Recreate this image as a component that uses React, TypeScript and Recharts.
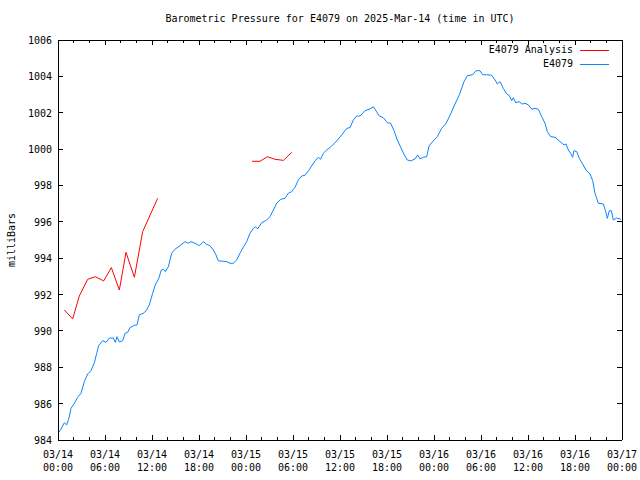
import React from 'react';
import { LineChart, Line, XAxis, YAxis, Legend } from 'recharts';

const stationHours = [
  0.13, 0.26, 0.81, 1.1, 1.36, 1.66, 2.09, 2.51, 2.94, 3.36, 3.79, 4.21, 4.64, 4.94, 5.19, 5.7,
  6.13, 6.55, 7.06, 7.32, 7.53, 7.83, 8.26, 8.55, 8.89, 9.19, 9.75, 10.09, 10.38, 10.89, 11.23,
  11.66, 12.08, 12.42, 12.85, 13.19, 13.45, 13.7, 14.09, 14.51, 14.94, 15.57, 16.21, 16.64,
  16.98, 17.49, 18.04, 18.55, 18.98, 19.4, 19.83, 20.17, 20.47, 21.1, 21.54, 21.96, 22.38,
  22.81, 23.23, 23.66, 24.09, 24.51, 24.94, 25.24, 25.49, 26.0, 26.64, 27.06, 27.49, 27.92,
  28.43, 28.98, 29.4, 29.83, 30.26, 30.68, 31.11, 31.53, 31.96, 32.38, 32.81, 33.23, 33.53,
  33.87, 34.3, 34.94, 35.58, 36.22, 36.86, 37.28, 37.7, 38.13, 38.55, 39.19, 39.83, 40.26,
  40.6, 41.02, 41.53, 42.04, 42.47, 42.9, 43.32, 43.75, 44.17, 44.59, 45.03, 45.58, 45.92,
  46.21, 46.64, 47.07, 47.36, 47.91, 48.42, 48.98, 49.49, 50.04, 50.68, 51.23, 51.83, 52.26,
  52.94, 53.36, 53.87, 54.21, 54.72, 55.36, 55.79, 56.09, 56.43, 56.85, 57.28, 57.62, 57.92,
  58.13, 58.43, 58.86, 59.28, 59.62, 60.05, 60.48, 60.9, 61.32, 61.76, 62.17, 62.47, 62.9,
  63.45, 64.09, 64.6, 64.86, 65.15, 65.45, 65.7, 65.87, 66.22, 66.55, 66.98, 67.4, 67.91,
  68.26, 68.55, 68.98, 69.62, 69.92, 70.13, 70.38, 70.64, 70.89, 71.32, 71.87,
];
const stationPressure = [
  984.44, 984.51, 984.95, 984.83, 985.14, 985.74, 986.02, 986.35, 986.57, 987.21, 987.63,
  987.81, 988.25, 988.77, 989.19, 989.46, 989.37, 989.61, 989.61, 989.37, 989.68, 989.39,
  989.46, 989.86, 989.92, 990.18, 990.31, 990.33, 990.88, 990.97, 991.1, 991.43, 992.07,
  992.53, 992.87, 993.35, 993.39, 993.26, 993.53, 994.27, 994.49, 994.69, 994.91, 994.82,
  994.91, 994.82, 994.69, 994.91, 994.76, 994.69, 994.45, 994.18, 993.85, 993.83, 993.81,
  993.72, 993.72, 993.9, 994.27, 994.6, 994.91, 995.37, 995.64, 995.73, 995.61, 995.95,
  996.1, 996.28, 996.65, 997.02, 997.24, 997.29, 997.57, 997.66, 997.9, 998.3, 998.52,
  998.56, 998.8, 999.07, 999.35, 999.55, 999.44, 999.77, 999.95, 1000.17, 1000.45, 1000.78,
  1001.14, 1001.18, 1001.6, 1001.82, 1001.82, 1002.11, 1002.21, 1002.33, 1002.1, 1001.82,
  1001.73, 1001.45, 1001.42, 1001.01, 1000.5, 1000.1, 999.71, 999.4, 999.35, 999.46, 999.68,
  999.46, 999.55, 999.58, 1000.17, 1000.45, 1000.68, 1001.14, 1001.38, 1001.85, 1002.48,
  1002.98, 1003.71, 1004.04, 1004.09, 1004.31, 1004.31, 1004.09, 1004.09, 1004.06, 1003.8,
  1003.58, 1003.71, 1003.34, 1003.03, 1002.94, 1002.66, 1002.83, 1002.55, 1002.61, 1002.48,
  1002.52, 1002.43, 1002.19, 1002.24, 1002.19, 1001.78, 1001.42, 1000.96, 1000.68, 1000.65,
  1000.41, 1000.23, 1000.28, 999.95, 999.77, 999.55, 999.91, 999.86, 999.49, 999.18, 998.85,
  998.63, 998.26, 997.57, 997.02, 996.98, 996.56, 996.19, 996.61, 996.61, 996.1, 996.21,
  996.14,
];

const analysisHours = [
  0.81, 1.87, 2.72, 3.79, 4.77, 5.83, 6.81, 7.83, 8.68, 9.75, 10.81, 12.72, 18, 24.77, 25.79,
  26.72, 27.7, 28.77, 29.83,
];
const analysisPressure: (number | null)[] = [
  991.15, 990.66, 991.92, 992.84, 992.98, 992.75, 993.48, 992.25, 994.32, 992.95, 995.46,
  997.29, null, 999.33, 999.33, 999.58, 999.44, 999.38, 999.82,
];

const seriesNames = ['E4079 Analysis', 'E4079'];
const seriesColors = ['#ff0000', '#0a84ff'];

const xTicks = [0, 2, 4, 6, 8, 10, 12, 14, 16, 18, 20, 22, 24, 26, 28, 30, 32, 34, 36, 38, 40,
  42, 44, 46, 48, 50, 52, 54, 56, 58, 60, 62, 64, 66, 68, 70, 72];
const tickDates = ['03/14', '03/14', '03/14', '03/14', '03/15', '03/15', '03/15', '03/15',
  '03/16', '03/16', '03/16', '03/16', '03/17'];
const tickTimes = ['00:00', '06:00', '12:00', '18:00', '00:00', '06:00', '12:00', '18:00',
  '00:00', '06:00', '12:00', '18:00', '00:00'];
const yTicks = [984, 986, 988, 990, 992, 994, 996, 998, 1000, 1002, 1004, 1006];

const stationData = stationHours.map((h, i) => ({ h, p: stationPressure[i] }));
const analysisData = analysisHours.map((h, i) => ({ h, p: analysisPressure[i] }));

const FONT = '"DejaVu Sans Mono", "Liberation Mono", monospace';

const BottomTick = (props: any) => {
  const { x, y, payload } = props;
  const v = payload.value as number;
  const major = v % 6 === 0;
  const i = v / 6;
  return (
    <g>
      <line x1={x} y1={y} x2={x} y2={y - (major ? 5 : 3)} stroke="#000" shapeRendering="crispEdges" />
      {major && (
        <text x={x} y={y} textAnchor="middle" fontFamily={FONT} fontSize={10} fill="#000">
          <tspan x={x} dy={18}>{tickDates[i]}</tspan>
          <tspan x={x} dy={13}>{tickTimes[i]}</tspan>
        </text>
      )}
    </g>
  );
};

const TopTick = (props: any) => {
  const { x, y, payload } = props;
  const major = (payload.value as number) % 6 === 0;
  return <line x1={x} y1={y} x2={x} y2={y + (major ? 5 : 3)} stroke="#000" shapeRendering="crispEdges" />;
};

const LeftTick = (props: any) => {
  const { x, y, payload } = props;
  return (
    <g>
      <line x1={x} y1={y} x2={x + 5} y2={y} stroke="#000" shapeRendering="crispEdges" />
      <text x={x - 6} y={y} dy={4} textAnchor="end" fontFamily={FONT} fontSize={10} fill="#000">
        {payload.value}
      </text>
    </g>
  );
};

const RightTick = (props: any) => {
  const { x, y } = props;
  return <line x1={x} y1={y} x2={x - 5} y2={y} stroke="#000" shapeRendering="crispEdges" />;
};

const renderLegend = () => (
  <div style={{ fontFamily: FONT, fontSize: 10, color: '#000' }}>
    {seriesNames.map((name, i) => (
      <div key={name} style={{ display: 'flex', justifyContent: 'flex-end', alignItems: 'center', height: 14, lineHeight: '14px' }}>
        <span>{name}</span>
        <svg width={39} height={14} style={{ display: 'block' }}>
          <line x1={7} y1={7.5} x2={36} y2={7.5} stroke={seriesColors[i]} strokeWidth={1} />
        </svg>
      </div>
    ))}
  </div>
);

const axisLineStyle = { stroke: '#000', shapeRendering: 'crispEdges' } as any;

export default function App() {
  return (
    <div style={{ position: 'absolute', left: 0, top: 0, width: 640, height: 480, background: '#fff' }}>
      <div style={{ position: 'absolute', left: 58, top: 12, width: 564, textAlign: 'center', fontFamily: FONT, fontSize: 10, lineHeight: '14px', color: '#000' }}>
        Barometric Pressure for E4079 on 2025-Mar-14 (time in UTC)
      </div>
      <div style={{ position: 'absolute', left: -28, top: 233, width: 80, height: 14, textAlign: 'center', transform: 'rotate(-90deg)', fontFamily: FONT, fontSize: 10, lineHeight: '14px', color: '#000' }}>
        milliBars
      </div>
      <LineChart width={640} height={480} margin={{ top: 0, right: 0, bottom: 0, left: 0 }}>
        <XAxis xAxisId="b" dataKey="h" type="number" domain={[0, 72]} ticks={xTicks} interval={0} orientation="bottom" height={40}
          tickLine={false} tickSize={0} tickMargin={0} axisLine={axisLineStyle} tick={<BottomTick />} allowDataOverflow />
        <XAxis xAxisId="t" dataKey="h" type="number" domain={[0, 72]} ticks={xTicks} interval={0} orientation="top" height={40}
          tickLine={false} tickSize={0} tickMargin={0} axisLine={axisLineStyle} tick={<TopTick />} allowDataOverflow />
        <YAxis yAxisId="l" type="number" domain={[984, 1006]} ticks={yTicks} interval={0} orientation="left" width={58}
          tickLine={false} tickSize={0} tickMargin={0} axisLine={axisLineStyle} tick={<LeftTick />} allowDataOverflow />
        <YAxis yAxisId="r" type="number" domain={[984, 1006]} ticks={yTicks} interval={0} orientation="right" width={18}
          tickLine={false} tickSize={0} tickMargin={0} axisLine={axisLineStyle} tick={<RightTick />} allowDataOverflow />
        <Legend layout="vertical" align="center" verticalAlign="middle" content={renderLegend}
          wrapperStyle={{ position: 'absolute', left: 370, top: 43, width: 242, height: 28 }} />
        <Line xAxisId="b" yAxisId="l" data={analysisData} dataKey="p" name={seriesNames[0]} stroke={seriesColors[0]} strokeWidth={1}
          dot={false} activeDot={false} connectNulls={false} isAnimationActive={false} type="linear" />
        <Line xAxisId="b" yAxisId="l" data={stationData} dataKey="p" name={seriesNames[1]} stroke={seriesColors[1]} strokeWidth={1}
          dot={false} activeDot={false} isAnimationActive={false} type="linear" />
      </LineChart>
    </div>
  );
}
